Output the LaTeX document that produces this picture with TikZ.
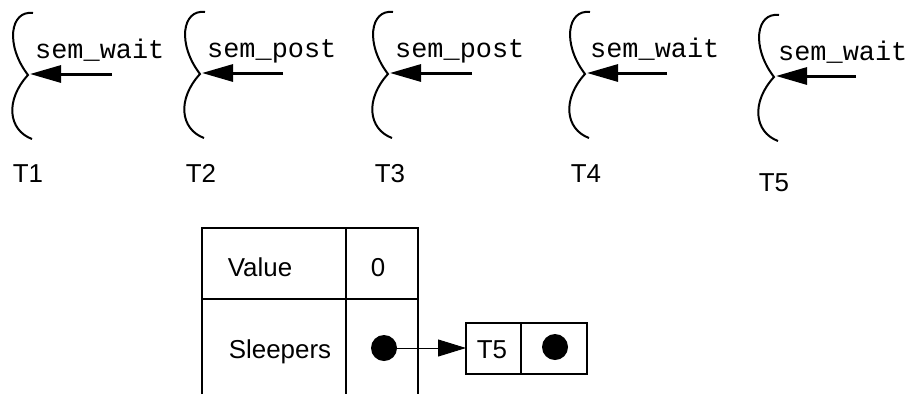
\documentclass[tikz,border=0pt]{standalone}
\usepackage{fontspec}
\setmainfont{Liberation Sans}
\setmonofont{Liberation Mono}
\usetikzlibrary{arrows.meta}
\begin{document}
\begin{tikzpicture}[x=1bp,y=-1bp,
  thread/.style={line width=2bp},
  callarrow/.style={line width=3bp,-{Triangle[length=31bp,width=17bp]}},
  calltext/.style={anchor=base west,inner sep=0pt,font=\fontsize{27}{30}\selectfont\ttfamily},
  tlabel/.style={anchor=base,inner sep=0pt,font=\fontsize{26}{30}\selectfont},
  cell/.style={anchor=base,inner sep=0pt,font=\fontsize{26}{30}\selectfont},
  grid/.style={line width=2.5bp},
  bigdot/.style={circle,fill=black,inner sep=0pt,minimum size=26bp},
  ptr/.style={line width=1bp,-{Triangle[length=28bp,width=17bp]}}]
\useasboundingbox (0,0) rectangle (906,394);
% threads
\foreach \i/\cx/\cy/\ax/\tx/\txt/\lx/\ly in {
  1/28/75/112/35/sem\_wait/28/182,
  2/200/74/283/207/sem\_post/201/182,
  3/388/74/472/395/sem\_post/390/182,
  4/585/74/667/590/sem\_wait/586/182,
  5/774/77/856/778/sem\_wait/774/191}{
  \draw[thread] (\cx+5,\cy-62) .. controls (\cx-18,\cy-65) and (\cx-23,\cy-30) .. (\cx,\cy)
                 .. controls (\cx-23,\cy+25) and (\cx-20,\cy+55) .. (\cx+4,\cy+64);
  \coordinate (tip\i) at (\cx+2,\cy-1);
  \coordinate (tail\i) at (\ax,\cy-1);
  \draw[callarrow] (tail\i) -- (tip\i);
  \node[calltext] (call\i) at (\tx,\cy-17) {\txt};
  \node[tlabel] (lab\i) at (\lx,\ly) {T\i};
}
% semaphore table
\draw[grid] (202,394) -- (202,228) -- (418,228) -- (418,394);
\draw[grid] (346,228) -- (346,394);
\draw[grid] (202,299) -- (418,299);
\node[cell] (value) at (260,276) {Value};
\node[cell] (zero) at (378,276) {0};
\node[cell] (sleepers) at (280,358) {Sleepers};
\node[bigdot] (head) at (384,348) {};
% queue element
\draw[grid] (466,323) rectangle (587,374);
\draw[grid] (521,323) -- (521,374);
\coordinate (qin) at (466,348);
\node[cell] (t5) at (492,358) {T5};
\node[bigdot] (next) at (555,347) {};
\draw[ptr] (head.center) -- (qin);
\end{tikzpicture}
\end{document}
